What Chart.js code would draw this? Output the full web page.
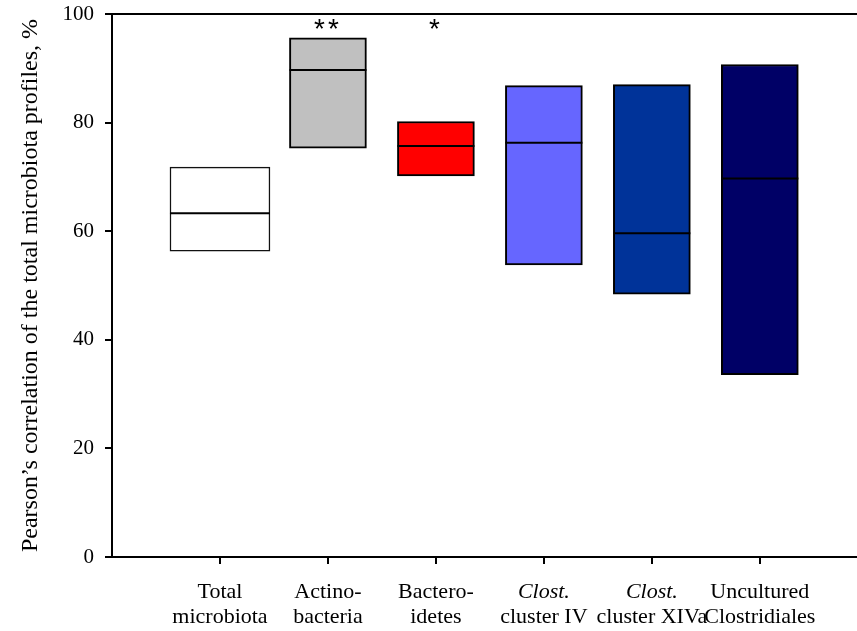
<!DOCTYPE html>
<html>
<head>
<meta charset="utf-8">
<title>Pearson's correlation of microbiota profiles</title>
<script src="https://cdn.jsdelivr.net/npm/chart.js@4.4.1/dist/chart.umd.min.js"></script>
<style>
  html, body { margin: 0; padding: 0; background: #fff; }
  #wrap { width: 857px; height: 631px; }
</style>
</head>
<body>
<div id="wrap"><canvas id="corrChart"></canvas></div>
<script>
// group names, split over two label rows
const groupLine1 = ['Total', 'Actino-', 'Bactero-', 'Clost.', 'Clost.', 'Uncultured'];
const groupLine2 = ['microbiota', 'bacteria', 'idetes', 'cluster IV', 'cluster XIVa', 'Clostridiales'];
const italicLine1 = [false, false, false, true, true, false];

// box range (low / high) and median, %
const boxLow = [56.3, 75.3, 70.2, 53.8, 48.4, 33.6];
const boxHigh = [71.8, 95.6, 80.2, 86.8, 87.0, 90.7];
const boxMedian = [63.3, 89.7, 75.7, 76.3, 59.6, 69.7];
const significance = ['', '**', '*', '', '', ''];
const yTicks = [0, 20, 40, 60, 80, 100];

const boxColors = ['#ffffff', '#c0c0c0', '#ff0000', '#6666ff', '#003399', '#000066'];
const SERIF = '"Liberation Serif", "Times New Roman", serif';
const X_MAX = 6.9;

const boxes = boxLow.map((lo, i) => ({ x: i + 1, y: [lo, boxHigh[i]] }));
const medians = boxMedian.map((m, i) => ({ x: i + 1, y: m }));
const groupTicks = (scale) => { scale.ticks = groupLine1.map((_, i) => ({ value: i + 1 })); };

// fixed axis sizes, no extra room for overhanging labels
const fitBox = (size) => (s) => {
    if (s.isHorizontal()) s.height = size; else s.width = size;
    s.paddingLeft = s.paddingRight = s.paddingTop = s.paddingBottom = 0;
};

// significance stars above the boxes
const sigMarks = {
    id: 'sigMarks',
    afterDatasetsDraw(chart) {
        const { ctx, scales: { x, y } } = chart;
        ctx.save();
        ctx.font = '28px "Liberation Sans", Arial, sans-serif';
        ctx.fillStyle = '#000';
        ctx.textAlign = 'center';
        ctx.textBaseline = 'alphabetic';
        ctx.letterSpacing = '3px';
        significance.forEach((s, i) => {
            if (!s) return;
            ctx.fillText(s, x.getPixelForValue(i + 1), y.getPixelForValue(95.6));
        });
        ctx.restore();
    }
};

new Chart(document.getElementById('corrChart'), {
    data: {
        datasets: [
            {
                type: 'line',
                label: 'median',
                data: medians,
                showLine: false,
                pointStyle: 'line',
                pointRadius: (ctx) => ctx.dataIndex === 0 ? 50 : 38.5,
                pointBorderColor: '#000',
                pointBorderWidth: 2,
                order: 0
            },
            {
                type: 'bar',
                label: groupLine1[0],
                data: boxes.slice(0, 1),
                backgroundColor: boxColors[0],
                borderColor: '#111',
                borderWidth: 1.5,
                borderSkipped: false,
                barThickness: 100,
                grouped: false,
                order: 1
            },
            {
                type: 'bar',
                label: 'groups',
                data: boxes.slice(1),
                backgroundColor: boxColors.slice(1),
                borderColor: '#000',
                borderWidth: 2,
                borderSkipped: false,
                barThickness: 77,
                grouped: false,
                order: 1
            }
        ]
    },
    options: {
        responsive: true,
        maintainAspectRatio: false,
        animation: false,
        events: [],
        layout: { autoPadding: false, padding: { top: 14, right: 0, left: 0, bottom: 0 } },
        plugins: {
            legend: { display: false },
            tooltip: { enabled: false }
        },
        scales: {
            x: {
                type: 'linear',
                position: 'bottom',
                weight: 0,
                offset: false,
                min: 0,
                max: X_MAX,
                afterBuildTicks: groupTicks,
                afterFit: fitBox(46),
                grid: { display: true, offset: false, drawOnChartArea: false, drawTicks: true, tickLength: 7, color: '#000', lineWidth: 2 },
                border: { display: true, color: '#000', width: 2 },
                ticks: {
                    autoSkip: false,
                    maxRotation: 0,
                    padding: 15,
                    color: '#000',
                    callback: (v) => groupLine1[v - 1],
                    font: (ctx) => ({ family: SERIF, size: 22, style: italicLine1[ctx.index] ? 'italic' : 'normal' })
                }
            },
            x2: {
                type: 'linear',
                position: 'bottom',
                weight: 1,
                offset: false,
                min: 0,
                max: X_MAX,
                afterBuildTicks: groupTicks,
                afterFit: fitBox(28),
                grid: { display: false, offset: false, drawTicks: false },
                border: { display: false },
                ticks: {
                    autoSkip: false,
                    maxRotation: 0,
                    padding: 1,
                    color: '#000',
                    callback: (v) => groupLine2[v - 1],
                    font: { family: SERIF, size: 22 }
                }
            },
            xTop: {
                type: 'linear',
                position: 'top',
                offset: false,
                min: 0,
                max: X_MAX,
                afterFit: fitBox(0),
                grid: { display: false, offset: false, drawTicks: false },
                border: { display: true, color: '#000', width: 2 },
                ticks: { display: false }
            },
            y: {
                min: 0,
                max: 100,
                afterBuildTicks: (s) => { s.ticks = yTicks.map(v => ({ value: v })); },
                afterFit: fitBox(112),
                title: {
                    display: true,
                    text: 'Pearson\u2019s correlation of the total microbiota profiles, %',
                    color: '#000',
                    font: { family: SERIF, size: 24 },
                    padding: { top: 16, bottom: 0 }
                },
                grid: { display: true, drawOnChartArea: false, drawTicks: true, tickLength: 7, color: '#000', lineWidth: 2 },
                border: { display: true, color: '#000', width: 2 },
                ticks: {
                    color: '#000',
                    padding: 11,
                    font: { family: SERIF, size: 21 }
                }
            }
        }
    },
    plugins: [sigMarks]
});
</script>
</body>
</html>
